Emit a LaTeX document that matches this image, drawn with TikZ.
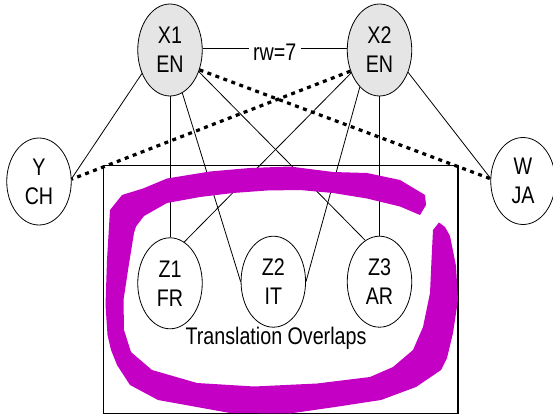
\documentclass[tikz,border=0pt]{standalone}
\usepackage{fontspec}
\setmainfont{Liberation Sans}[FakeStretch=0.82]
\usetikzlibrary{shapes.geometric}
\definecolor{pen}{RGB}{196,0,196}
\tikzset{
  lang/.style={ellipse, draw, line width=0.8pt, inner sep=0pt, minimum width=64.5pt,
    minimum height=91pt, align=center, font=\fontsize{24}{29}\selectfont},
  enode/.style={lang, fill=gray!20, minimum height=92pt},
  side/.style={lang, minimum height=87pt},
  link/.style={line width=0.8pt},
  dotlink/.style={line width=3.2pt, dash pattern=on 4pt off 4.5pt},
  lab/.style={fill=white, inner xsep=4.5pt, inner ysep=1pt, font=\fontsize{24}{29}\selectfont},
  capt/.style={anchor=base, inner sep=0pt, font=\fontsize{24}{29}\selectfont},
  frame/.style={line width=1.2pt}
}
\begin{document}
\begin{tikzpicture}[x=1pt, y=-1pt]
\useasboundingbox (0,0) rectangle (553,417);
\draw[frame] (103.3,165.5) rectangle (458,413.3);
\node[enode] (X1) at (170,50) {X1\\EN};
\node[enode] (X2) at (379.5,50) {X2\\EN};
\node[side] (Y) at (39,181.5) {Y\\CH};
\node[side] (W) at (523,181) {W\\JA};
\node[lang] (Z1) at (170,283.3) {Z1\\FR};
\node[lang] (Z2) at (273.3,281.7) {Z2\\IT};
\node[lang] (Z3) at (379.5,281.7) {Z3\\AR};
\node[capt] (cap) at (276,344.3) {Translation Overlaps};
\draw[link] (X1.3) -- node[lab, yshift=-4pt] (rw) {rw=7} (X2.177);
\draw[link] (X1.220) -- (Y.5);
\draw[link] (X1.south) -- (Z1.north);
\draw[link] (X1.286) -- (Z2.west);
\draw[link] (X1.-37) -- (Z3.109);
\draw[link] (X2.219) -- (Z1.71);
\draw[link] (X2.242) -- (Z2.east);
\draw[link] (X2.south) -- (Z3.north);
\draw[link] (X2.-38) -- (W.175);
\draw[dotlink] (X1.-34) -- (W.176);
\draw[dotlink] (X2.216) -- (Y.4);
\fill[pen] (425,195) -- (400,180) -- (367,173) -- (333,172) -- (290,166.5) -- (250,168)
  -- (210,171.5) -- (167,178.5) -- (143,188.5) -- (122,195) -- (110,210)
  -- (107,260) -- (105.5,305) -- (107.5,335) -- (111,350) -- (117,365) -- (130,385)
  -- (158,400) -- (230,413) -- (290,413.5) -- (335,407) -- (381,400) -- (416,387)
  -- (441,370) -- (447,358) -- (453,333) -- (458,300) -- (456,266) -- (450,236)
  -- (445,227) -- (439,222.5)
  -- (433,230) -- (431.5,260) -- (430,293) -- (423,327) -- (413,350) -- (393,367) -- (370,377)
  -- (317,383.5) -- (254,386.5) -- (197,383) -- (152,370) -- (131,352)
  -- (124,330) -- (123.5,300) -- (128.5,267) -- (134,233) -- (136,226.5) -- (144,216)
  -- (167,203) -- (200,197) -- (233,193) -- (267,190.5) -- (300,190) -- (333,193)
  -- (367,198.5) -- (400,206.5) -- (420,215) -- (426,205) -- cycle;
\end{tikzpicture}
\end{document}
